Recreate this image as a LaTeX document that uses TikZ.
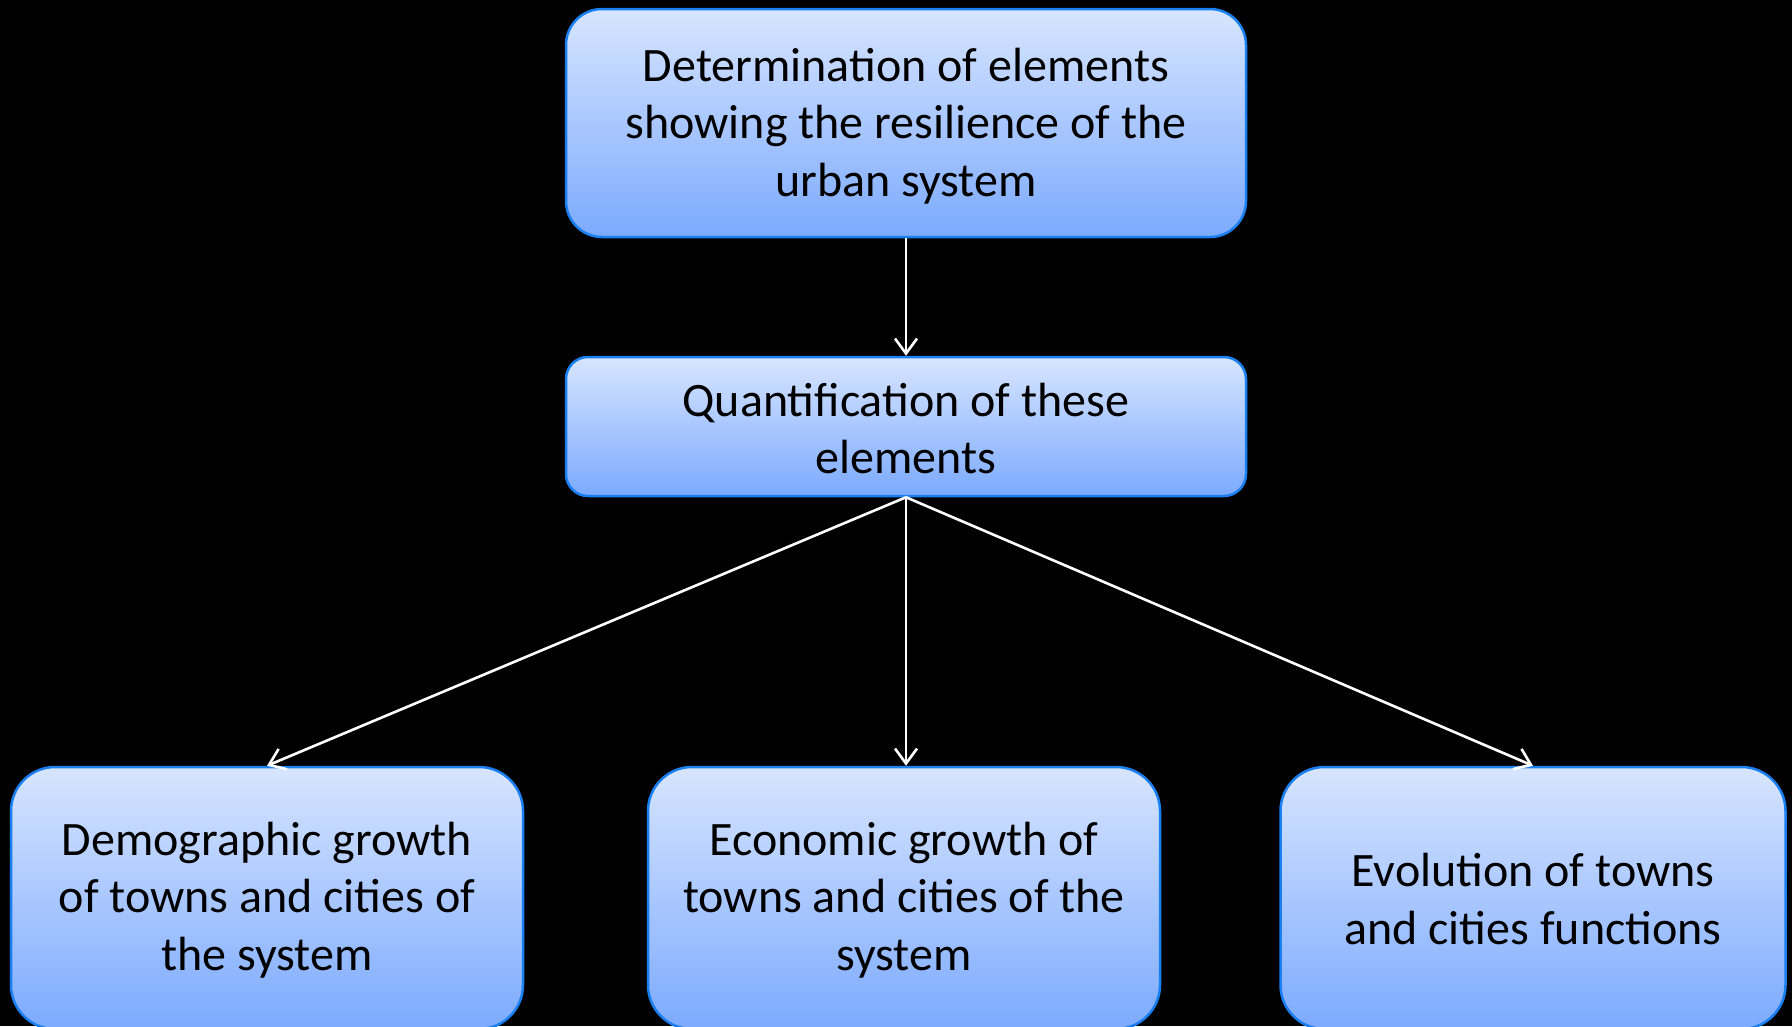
\documentclass[tikz,border=0pt]{standalone}
\usepackage{fontspec}
\setmainfont{Carlito}
\usetikzlibrary{arrows.meta}
\definecolor{boxtop}{RGB}{215,229,255}
\definecolor{boxbot}{RGB}{124,170,254}
\definecolor{boxline}{RGB}{26,127,240}
\tikzset{
  box/.style={draw=boxline, line width=2.5pt, top color=boxtop, bottom color=boxbot, inner sep=0pt},
  boxtext/.style={align=center, inner sep=0pt, font=\fontsize{48}{57.5}\selectfont, text=black},
  conn/.style={draw=white, line width=2.6pt, -{Straight Barb[length=15pt,width=22pt,line width=2.6pt]}}
}
\begin{document}
\begin{tikzpicture}[x=1pt,y=-1pt]
\fill[black] (0,0) rectangle (1792,1026);
\useasboundingbox (0,0) rectangle (1792,1026);
\clip (0,0) rectangle (1792,1026);
\node[box, rounded corners=36pt, minimum width=680pt, minimum height=228pt] (det) at (906,123) {};
\node[box, rounded corners=22pt, minimum width=680pt, minimum height=139pt] (quant) at (906,426.5) {};
\node[box, rounded corners=44pt, minimum width=512pt, minimum height=262pt] (demo) at (267,898) {};
\node[box, rounded corners=44pt, minimum width=512pt, minimum height=262pt] (econ) at (904,898) {};
\node[box, rounded corners=44pt, minimum width=505pt, minimum height=262pt] (evol) at (1533,898) {};
\node[boxtext] (dett) at ([yshift=-3pt]det.center) {Determination of elements\\showing the resilience of the\\urban system};
\node[boxtext] (quantt) at ([yshift=-2pt]quant.center) {Quantification of these\\elements};
\node[boxtext] (demot) at ([yshift=-2pt]demo.center) {Demographic growth\\of towns and cities of\\the system};
\node[boxtext] (econt) at ([yshift=-2pt]econ.center) {Economic growth of\\towns and cities of the\\system};
\node[boxtext] (evolt) at ([yshift=-1pt]evol.center) {Evolution of towns\\and cities functions};
\draw[conn] (det.south) -- (quant.north);
\draw[conn] (quant.south) -- (demo.north);
\draw[conn] (quant.south) -- (quant.south |- econ.north);
\draw[conn] (quant.south) -- (evol.north);
\end{tikzpicture}
\end{document}
